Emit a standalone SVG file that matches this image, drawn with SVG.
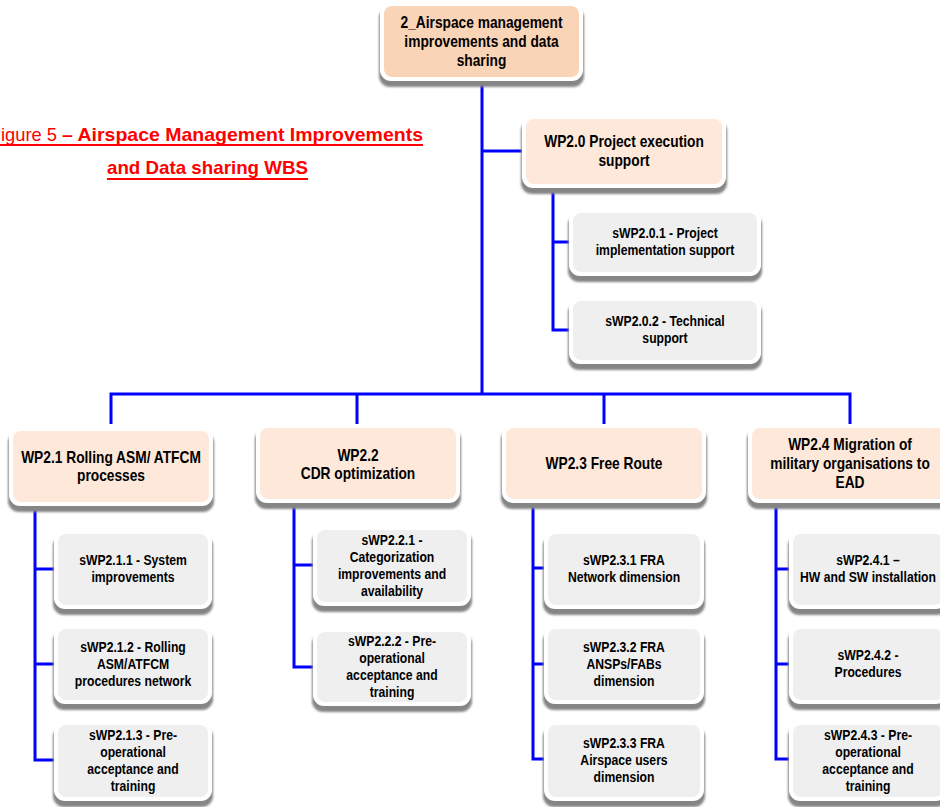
<svg xmlns="http://www.w3.org/2000/svg" width="940" height="807" viewBox="0 0 940 807">
<style>
.t{font-family:"Liberation Sans",Arial,sans-serif;font-weight:bold;fill:#000;text-anchor:middle}
.l{font-size:16px}
.s{font-size:14px}
.sh{fill:#858585;filter:url(#blur)}
.bd{fill:#fff}
.root{fill:#FAD4B6}
.wp{fill:#FDE8DA}
.sub{fill:#EFEFEF}
.ttl{font-family:"Liberation Sans",Arial,sans-serif;font-size:18.5px;fill:#FF0000}
</style>
<defs>
<filter id="blur" x="-10%" y="-20%" width="120%" height="140%"><feGaussianBlur stdDeviation="1.2"/></filter>
</defs>
<rect width="940" height="807" fill="#fff"/>

<g id="title">
<text class="ttl" x="1" y="141" textLength="56" lengthAdjust="spacingAndGlyphs">igure 5</text>
<text class="ttl" x="62" y="141" font-weight="bold" textLength="361" lengthAdjust="spacingAndGlyphs">– Airspace Management Improvements</text>
<text class="ttl" x="107" y="174" font-weight="bold" textLength="201" lengthAdjust="spacingAndGlyphs">and Data sharing WBS</text>
<line x1="0" y1="145" x2="423" y2="145" stroke="#FF0000" stroke-width="1.8"/>
<line x1="107" y1="179" x2="308" y2="179" stroke="#FF0000" stroke-width="1.8"/>
</g>

<g id="connectors" fill="none" stroke="#0000FF" stroke-width="3">
<path d="M482 78 V394"/>
<path d="M482 151 H526"/>
<path d="M111 424 V394 H850 V424"/>
<path d="M357 394 V424"/>
<path d="M604 394 V424"/>
<path d="M553 186 V330 H572"/>
<path d="M553 242 H572"/>
<path d="M35 504 V760 H58"/>
<path d="M35 569 H58"/>
<path d="M35 664 H58"/>
<path d="M294 501 V667 H317"/>
<path d="M294 565 H317"/>
<path d="M533 501 V759 H548"/>
<path d="M533 568 H548"/>
<path d="M533 664 H548"/>
<path d="M776 501 V759 H793"/>
<path d="M776 569 H793"/>
<path d="M776 664 H793"/>
</g>

<g id="n-root">
<rect class="sh" x="379" y="7" width="205" height="80" rx="11"/>
<rect class="bd" x="380" y="2" width="203" height="79" rx="11"/>
<rect class="root" x="384" y="6" width="195" height="71" rx="8"/>
<g transform="translate(481.5 0) scale(0.86 1)">
<text class="t l" x="0" y="28">2_Airspace management</text>
<text class="t l" x="0" y="47">improvements and data</text>
<text class="t l" x="0" y="66">sharing</text>
</g>
</g>

<g id="n-wp20">
<rect class="sh" x="521" y="120" width="206" height="74" rx="11"/>
<rect class="bd" x="522" y="115" width="204" height="73" rx="11"/>
<rect class="wp" x="526" y="119" width="196" height="65" rx="8"/>
<g transform="translate(624 0) scale(0.86 1)">
<text class="t l" x="0" y="147">WP2.0 Project execution</text>
<text class="t l" x="0" y="166">support</text>
</g>
</g>

<g id="n-swp201">
<rect class="sh" x="568" y="214" width="194" height="68" rx="11"/>
<rect class="bd" x="569" y="209" width="192" height="67" rx="11"/>
<rect class="sub" x="573" y="213" width="184" height="59" rx="8"/>
<g transform="translate(665 0) scale(0.87 1)">
<text class="t s" x="0" y="238">sWP2.0.1 - Project</text>
<text class="t s" x="0" y="255">implementation support</text>
</g>
</g>

<g id="n-swp202">
<rect class="sh" x="568" y="302" width="194" height="68" rx="11"/>
<rect class="bd" x="569" y="297" width="192" height="67" rx="11"/>
<rect class="sub" x="573" y="301" width="184" height="59" rx="8"/>
<g transform="translate(665 0) scale(0.87 1)">
<text class="t s" x="0" y="326">sWP2.0.2 - Technical</text>
<text class="t s" x="0" y="343">support</text>
</g>
</g>

<g id="n-wp21">
<rect class="sh" x="8" y="432" width="206" height="80" rx="11"/>
<rect class="bd" x="9" y="427" width="204" height="79" rx="11"/>
<rect class="wp" x="13" y="431" width="196" height="71" rx="8"/>
<g transform="translate(111 0) scale(0.86 1)">
<text class="t l" x="0" y="463">WP2.1 Rolling ASM/ ATFCM</text>
<text class="t l" x="0" y="481">processes</text>
</g>
</g>

<g id="n-wp22">
<rect class="sh" x="255" y="429" width="206" height="80" rx="11"/>
<rect class="bd" x="256" y="424" width="204" height="79" rx="11"/>
<rect class="wp" x="260" y="428" width="196" height="71" rx="8"/>
<g transform="translate(358 0) scale(0.86 1)">
<text class="t l" x="0" y="461">WP2.2</text>
<text class="t l" x="0" y="479">CDR optimization</text>
</g>
</g>

<g id="n-wp23">
<rect class="sh" x="501" y="429" width="206" height="80" rx="11"/>
<rect class="bd" x="502" y="424" width="204" height="79" rx="11"/>
<rect class="wp" x="506" y="428" width="196" height="71" rx="8"/>
<g transform="translate(604 0) scale(0.86 1)">
<text class="t l" x="0" y="469">WP2.3 Free Route</text>
</g>
</g>

<g id="n-wp24">
<rect class="sh" x="747" y="429" width="206" height="80" rx="11"/>
<rect class="bd" x="748" y="424" width="204" height="79" rx="11"/>
<rect class="wp" x="752" y="428" width="196" height="71" rx="8"/>
<g transform="translate(850 0) scale(0.86 1)">
<text class="t l" x="0" y="450">WP2.4 Migration of</text>
<text class="t l" x="0" y="469">military organisations to</text>
<text class="t l" x="0" y="488">EAD</text>
</g>
</g>

<g id="n-swp211">
<rect class="sh" x="53" y="535" width="160" height="80" rx="11"/>
<rect class="bd" x="54" y="530" width="158" height="79" rx="11"/>
<rect class="sub" x="58" y="534" width="150" height="71" rx="8"/>
<g transform="translate(133 0) scale(0.87 1)">
<text class="t s" x="0" y="565">sWP2.1.1 - System</text>
<text class="t s" x="0" y="582">improvements</text>
</g>
</g>

<g id="n-swp212">
<rect class="sh" x="53" y="630" width="160" height="80" rx="11"/>
<rect class="bd" x="54" y="625" width="158" height="79" rx="11"/>
<rect class="sub" x="58" y="629" width="150" height="71" rx="8"/>
<g transform="translate(133 0) scale(0.87 1)">
<text class="t s" x="0" y="652">sWP2.1.2 - Rolling</text>
<text class="t s" x="0" y="669">ASM/ATFCM</text>
<text class="t s" x="0" y="686">procedures network</text>
</g>
</g>

<g id="n-swp213">
<rect class="sh" x="53" y="726" width="160" height="81" rx="11"/>
<rect class="bd" x="54" y="721" width="158" height="80" rx="11"/>
<rect class="sub" x="58" y="725" width="150" height="72" rx="8"/>
<g transform="translate(133 0) scale(0.87 1)">
<text class="t s" x="0" y="740">sWP2.1.3 - Pre-</text>
<text class="t s" x="0" y="757">operational</text>
<text class="t s" x="0" y="774">acceptance and</text>
<text class="t s" x="0" y="791">training</text>
</g>
</g>

<g id="n-swp221">
<rect class="sh" x="312" y="531" width="160" height="81" rx="11"/>
<rect class="bd" x="313" y="526" width="158" height="80" rx="11"/>
<rect class="sub" x="317" y="530" width="150" height="72" rx="8"/>
<g transform="translate(392 0) scale(0.87 1)">
<text class="t s" x="0" y="545">sWP2.2.1 -</text>
<text class="t s" x="0" y="562">Categorization</text>
<text class="t s" x="0" y="579">improvements and</text>
<text class="t s" x="0" y="596">availability</text>
</g>
</g>

<g id="n-swp222">
<rect class="sh" x="312" y="633" width="160" height="79" rx="11"/>
<rect class="bd" x="313" y="628" width="158" height="78" rx="11"/>
<rect class="sub" x="317" y="632" width="150" height="70" rx="8"/>
<g transform="translate(392 0) scale(0.87 1)">
<text class="t s" x="0" y="646">sWP2.2.2 - Pre-</text>
<text class="t s" x="0" y="663">operational</text>
<text class="t s" x="0" y="680">acceptance and</text>
<text class="t s" x="0" y="697">training</text>
</g>
</g>

<g id="n-swp231">
<rect class="sh" x="543" y="535" width="162" height="80" rx="11"/>
<rect class="bd" x="544" y="530" width="160" height="79" rx="11"/>
<rect class="sub" x="548" y="534" width="152" height="71" rx="8"/>
<g transform="translate(624 0) scale(0.87 1)">
<text class="t s" x="0" y="565">sWP2.3.1 FRA</text>
<text class="t s" x="0" y="582">Network dimension</text>
</g>
</g>

<g id="n-swp232">
<rect class="sh" x="543" y="630" width="162" height="80" rx="11"/>
<rect class="bd" x="544" y="625" width="160" height="79" rx="11"/>
<rect class="sub" x="548" y="629" width="152" height="71" rx="8"/>
<g transform="translate(624 0) scale(0.87 1)">
<text class="t s" x="0" y="652">sWP2.3.2 FRA</text>
<text class="t s" x="0" y="669">ANSPs/FABs</text>
<text class="t s" x="0" y="686">dimension</text>
</g>
</g>

<g id="n-swp233">
<rect class="sh" x="543" y="726" width="162" height="81" rx="11"/>
<rect class="bd" x="544" y="721" width="160" height="80" rx="11"/>
<rect class="sub" x="548" y="725" width="152" height="72" rx="8"/>
<g transform="translate(624 0) scale(0.87 1)">
<text class="t s" x="0" y="748">sWP2.3.3 FRA</text>
<text class="t s" x="0" y="765">Airspace users</text>
<text class="t s" x="0" y="782">dimension</text>
</g>
</g>

<g id="n-swp241">
<rect class="sh" x="788" y="535" width="160" height="80" rx="11"/>
<rect class="bd" x="789" y="530" width="158" height="79" rx="11"/>
<rect class="sub" x="793" y="534" width="150" height="71" rx="8"/>
<g transform="translate(868 0) scale(0.87 1)">
<text class="t s" x="0" y="565">sWP2.4.1 –</text>
<text class="t s" x="0" y="582">HW and SW installation</text>
</g>
</g>

<g id="n-swp242">
<rect class="sh" x="788" y="630" width="160" height="80" rx="11"/>
<rect class="bd" x="789" y="625" width="158" height="79" rx="11"/>
<rect class="sub" x="793" y="629" width="150" height="71" rx="8"/>
<g transform="translate(868 0) scale(0.87 1)">
<text class="t s" x="0" y="660">sWP2.4.2 -</text>
<text class="t s" x="0" y="677">Procedures</text>
</g>
</g>

<g id="n-swp243">
<rect class="sh" x="788" y="726" width="160" height="81" rx="11"/>
<rect class="bd" x="789" y="721" width="158" height="80" rx="11"/>
<rect class="sub" x="793" y="725" width="150" height="72" rx="8"/>
<g transform="translate(868 0) scale(0.87 1)">
<text class="t s" x="0" y="740">sWP2.4.3 - Pre-</text>
<text class="t s" x="0" y="757">operational</text>
<text class="t s" x="0" y="774">acceptance and</text>
<text class="t s" x="0" y="791">training</text>
</g>
</g>
</svg>
